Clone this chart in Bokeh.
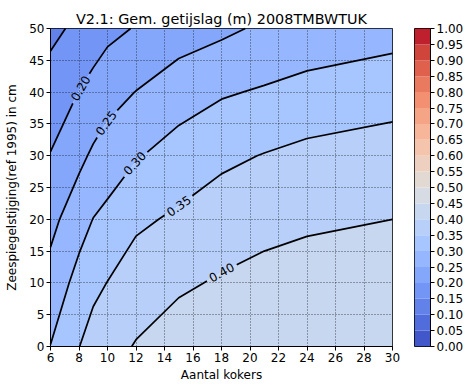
import math
import numpy as np
from bokeh.plotting import figure
from bokeh.layouts import row
from bokeh.models import Range1d, FixedTicker, PrintfTickFormatter, ColumnDataSource
from bokeh.core.properties import value
from bokeh.embed import file_html
from bokeh.resources import INLINE
from contourpy import contour_generator

# ---------------- data ----------------
kokers = [6, 8, 9, 10, 12, 15, 18, 21, 24, 30]          # Aantal kokers
zeespiegel = [0, 10, 20, 30, 40, 50]                     # cm
getijslag_0cm = [0.301, 0.349, 0.372, 0.383, 0.403, 0.423, 0.430, 0.438, 0.443, 0.448]
getijslag_10cm = [0.268, 0.317, 0.337, 0.351, 0.375, 0.393, 0.405, 0.415, 0.419, 0.430]
getijslag_20cm = [0.236, 0.280, 0.301, 0.313, 0.341, 0.358, 0.375, 0.385, 0.393, 0.400]
getijslag_30cm = [0.202, 0.238, 0.258, 0.272, 0.296, 0.320, 0.340, 0.352, 0.363, 0.375]
getijslag_40cm = [0.170, 0.201, 0.215, 0.232, 0.251, 0.278, 0.295, 0.305, 0.315, 0.328]
getijslag_50cm = [0.139, 0.160, 0.176, 0.187, 0.203, 0.225, 0.240, 0.258, 0.270, 0.282]

fill_levels = [round(0.05 * i, 2) for i in range(21)]
line_levels = [0.15, 0.20, 0.25, 0.30, 0.35, 0.40]
labelled_levels = [0.20, 0.25, 0.30, 0.35, 0.40]
label_at_kokers = [8.1, 9.9, 11.9, 15.0, 18.0]
xticks = list(range(6, 31, 2))
yticks = list(range(0, 51, 5))
title = "V2.1: Gem. getijslag (m) 2008TMBWTUK"

# ---------------- styling ----------------
FONT = "DejaVu Sans"
FS = "12px"
W_MAIN, H = 400, 385
BL, BR, BT, BB = 50, 8, 28, 39
FRAME_W = W_MAIN - BL - BR
FRAME_H = H - BT - BB

# coolwarm anchor table (Moreland)
cw = np.array([
    [59, 76, 192], [68, 90, 204], [77, 104, 215], [87, 117, 225], [98, 130, 234],
    [108, 142, 241], [119, 154, 247], [130, 165, 251], [141, 176, 254], [152, 185, 255],
    [163, 194, 255], [174, 201, 253], [184, 208, 249], [194, 213, 244], [204, 217, 238],
    [213, 219, 230], [221, 221, 221], [229, 216, 209], [236, 211, 197], [241, 204, 184],
    [245, 196, 172], [247, 187, 160], [247, 177, 148], [247, 166, 137], [244, 154, 123],
    [241, 141, 111], [236, 127, 99], [229, 112, 89], [222, 96, 77], [213, 80, 66],
    [203, 62, 56], [192, 40, 47], [180, 4, 38]], dtype=float)
cw_pos = np.linspace(0, 1, len(cw))


def coolwarm(v):
    r = np.interp(v, cw_pos, cw[:, 0])
    g = np.interp(v, cw_pos, cw[:, 1])
    b = np.interp(v, cw_pos, cw[:, 2])
    return "#%02x%02x%02x" % (int(round(r)), int(round(g)), int(round(b)))


lv = np.array(fill_levels)
mids = (lv[:-1] + lv[1:]) / 2
palette = [coolwarm(m) for m in mids]

Z = np.array([getijslag_0cm, getijslag_10cm, getijslag_20cm,
              getijslag_30cm, getijslag_40cm, getijslag_50cm])
X, Y = np.meshgrid(np.array(kokers, float), np.array(zeespiegel, float))

x0, x1 = kokers[0], kokers[-1]
y0, y1 = zeespiegel[0], zeespiegel[-1]
sx = FRAME_W / (x1 - x0)
sy = FRAME_H / (y1 - y0)

# ---------------- main figure ----------------
p = figure(width=W_MAIN, height=H, x_range=Range1d(x0, x1), y_range=Range1d(y0, y1),
           toolbar_location=None, output_backend="svg", title=title,
           min_border_left=BL, min_border_right=BR, min_border_top=BT, min_border_bottom=BB)

p.contour(X, Y, Z, fill_levels, fill_color=palette, line_color=None)

cg = contour_generator(X, Y, Z)
line_xs, line_ys = [], []
lab_x, lab_y, lab_t, lab_a = [], [], [], []
GAP = 34.0
for lev in line_levels:
    lines = cg.lines(lev)
    lab_pos = None
    if lev in labelled_levels:
        lab_pos = label_at_kokers[labelled_levels.index(lev)]
    for ln in lines:
        xs = ln[:, 0]
        ys = ln[:, 1]
        done = False
        if lab_pos is not None:
            px = (xs - x0) * sx
            py = (ys - y0) * sy
            seg = np.hypot(np.diff(px), np.diff(py))
            s = np.concatenate([[0.0], np.cumsum(seg)])
            sc = None
            for i in range(len(xs) - 1):
                if (xs[i] - lab_pos) * (xs[i + 1] - lab_pos) <= 0 and xs[i] != xs[i + 1]:
                    t = (lab_pos - xs[i]) / (xs[i + 1] - xs[i])
                    sc = s[i] + t * seg[i]
                    break
            if sc is not None:
                s0, s1 = sc - GAP / 2, sc + GAP / 2
                xa, ya = np.interp(s0, s, xs), np.interp(s0, s, ys)
                xb, yb = np.interp(s1, s, xs), np.interp(s1, s, ys)
                xm, ym = np.interp(sc, s, xs), np.interp(sc, s, ys)
                m0 = s < s0
                m1 = s > s1
                if m0.any():
                    line_xs.append(list(xs[m0]) + [xa])
                    line_ys.append(list(ys[m0]) + [ya])
                if m1.any():
                    line_xs.append([xb] + list(xs[m1]))
                    line_ys.append([yb] + list(ys[m1]))
                ang = math.atan2((yb - ya) * sy, (xb - xa) * sx)
                if ang > math.pi / 2:
                    ang -= math.pi
                elif ang < -math.pi / 2:
                    ang += math.pi
                lab_x.append(xm)
                lab_y.append(ym)
                lab_t.append("%.2f" % lev)
                lab_a.append(ang)
                done = True
        if not done:
            line_xs.append(list(xs))
            line_ys.append(list(ys))

lines_r = p.multi_line(line_xs, line_ys, line_color="black", line_width=1.7)
lines_r.level = "overlay"
src = ColumnDataSource(dict(x=lab_x, y=lab_y, text=lab_t, angle=lab_a))
txt_r = p.text(x="x", y="y", text="text", angle="angle", source=src,
               text_align="center", text_baseline="middle",
               text_font=value(FONT), text_font_size=FS, text_color="black")
txt_r.level = "overlay"

p.title.align = "center"
p.title.text_font = FONT
p.title.text_font_size = "14.4px"
p.title.text_font_style = "normal"
p.title.text_color = "black"
p.title.standoff = 3

p.xaxis.ticker = FixedTicker(ticks=xticks)
p.yaxis.ticker = FixedTicker(ticks=yticks)
p.xaxis.axis_label = "Aantal kokers"
p.yaxis.axis_label = "Zeespiegelstijging(ref 1995) in cm"
for ax in (p.xaxis[0], p.yaxis[0]):
    ax.major_tick_in = 0
    ax.major_tick_out = 4
    ax.minor_tick_in = 0
    ax.minor_tick_out = 0
    ax.major_label_text_font = FONT
    ax.major_label_text_font_size = FS
    ax.major_label_text_color = "black"
    ax.axis_label_text_font = FONT
    ax.axis_label_text_font_size = FS
    ax.axis_label_text_font_style = "normal"
    ax.axis_label_text_color = "black"
    ax.axis_line_color = "black"
    ax.major_tick_line_color = "black"
    ax.major_label_standoff = 2
p.xaxis[0].axis_label_standoff = 3
p.yaxis[0].axis_label_standoff = 7

for g in (p.xgrid[0], p.ygrid[0]):
    g.grid_line_color = "black"
    g.grid_line_dash = "1 2"
    g.grid_line_width = 0.8
    g.grid_line_alpha = 0.8
    g.level = "annotation"
p.outline_line_color = "black"
p.outline_line_width = 1
p.background_fill_color = "white"

# ---------------- colour bar figure ----------------
cb = figure(width=467 - W_MAIN, height=H, x_range=Range1d(0, 1), y_range=Range1d(0, 1),
            x_axis_location=None, y_axis_location="right", toolbar_location=None,
            output_backend="svg", min_border_left=14, min_border_right=37,
            min_border_top=BT, min_border_bottom=BB)
cb.quad(left=0, right=1, bottom=fill_levels[:-1], top=fill_levels[1:],
        fill_color=palette, line_color=None)
cb.yaxis.ticker = FixedTicker(ticks=fill_levels)
cb.yaxis.formatter = PrintfTickFormatter(format="%.2f")
ay = cb.yaxis[0]
ay.major_tick_in = 0
ay.major_tick_out = 4
ay.minor_tick_in = 0
ay.minor_tick_out = 0
ay.major_label_text_font = FONT
ay.major_label_text_font_size = FS
ay.major_label_text_color = "black"
ay.major_label_standoff = 2
ay.axis_line_color = "black"
cb.grid.visible = False
cb.outline_line_color = "black"

layout = row(p, cb)
open("out.html", "w").write(file_html(layout, INLINE))
